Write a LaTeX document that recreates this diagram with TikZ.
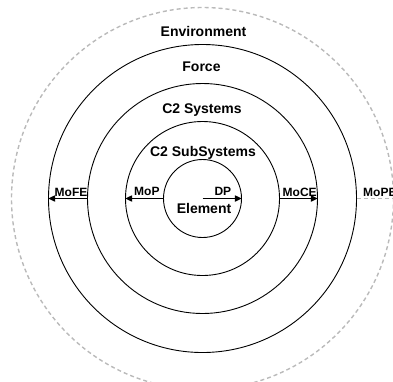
\documentclass[tikz,border=0pt]{standalone}
\usepackage{fontspec}
\newfontfamily\labfont{Liberation Sans}
\usetikzlibrary{arrows.meta}
\begin{document}
\begin{tikzpicture}[x=1pt,y=-1pt,
  ring/.style={draw=black,line width=0.9pt,circle,inner sep=0pt,minimum size=#1},
  outerring/.style={draw=black!27,line width=1.4pt,dash pattern=on 4pt off 3pt,circle,inner sep=0pt,minimum size=#1},
  lab/.style={font=\labfont\bfseries\fontsize{14}{16}\selectfont,inner sep=0pt,anchor=base},
  slab/.style={font=\labfont\bfseries\fontsize{12}{14}\selectfont,inner sep=0pt,anchor=base west},
  flow/.style={line width=1.6pt,-{Triangle[length=7pt,width=6pt]}},
  dflow/.style={draw=black!27,line width=1.4pt,dash pattern=on 4pt off 3pt}]
\useasboundingbox (0,0) rectangle (393,381);
\coordinate (ctr) at (202.5,198.5);
\node[outerring=382pt] (c5) at (ctr) {};
\node[ring=308pt] (c4) at (ctr) {};
\node[ring=230pt] (c3) at (ctr) {};
\node[ring=154pt] (c2) at (ctr) {};
\node[ring=78pt] (c1) at (ctr) {};
\coordinate (edge) at (396,198.5);
% labels
\node[lab] (tenv) at (203.5,36) {Environment};
\node[lab] (tforce) at (201.5,71) {Force};
\node[lab] (tsys) at (202,113.5) {C2 Systems};
\node[lab] (tsub) at (203,156) {C2 SubSystems};
\node[lab] (telem) at (204,213.5) {Element};
\node[slab] (tdp) at (214.3,195.5) {DP};
\node[slab] (tmop) at (134,195.5) {MoP};
\node[slab] (tmofe) at (54.5,196) {MoFE};
\node[slab] (tmoce) at (282.5,196) {MoCE};
\node[slab] (tmope) at (363,196) {MoPE};
% connectors
\draw[flow] (c3.west) -- (c4.west);
\draw[flow] (c1.west) -- (c2.west);
\draw[flow] (ctr) -- (c1.east);
\draw[flow] (c2.east) -- (c3.east);
\draw[dflow] (c4.east) -- (edge);
\end{tikzpicture}
\end{document}
